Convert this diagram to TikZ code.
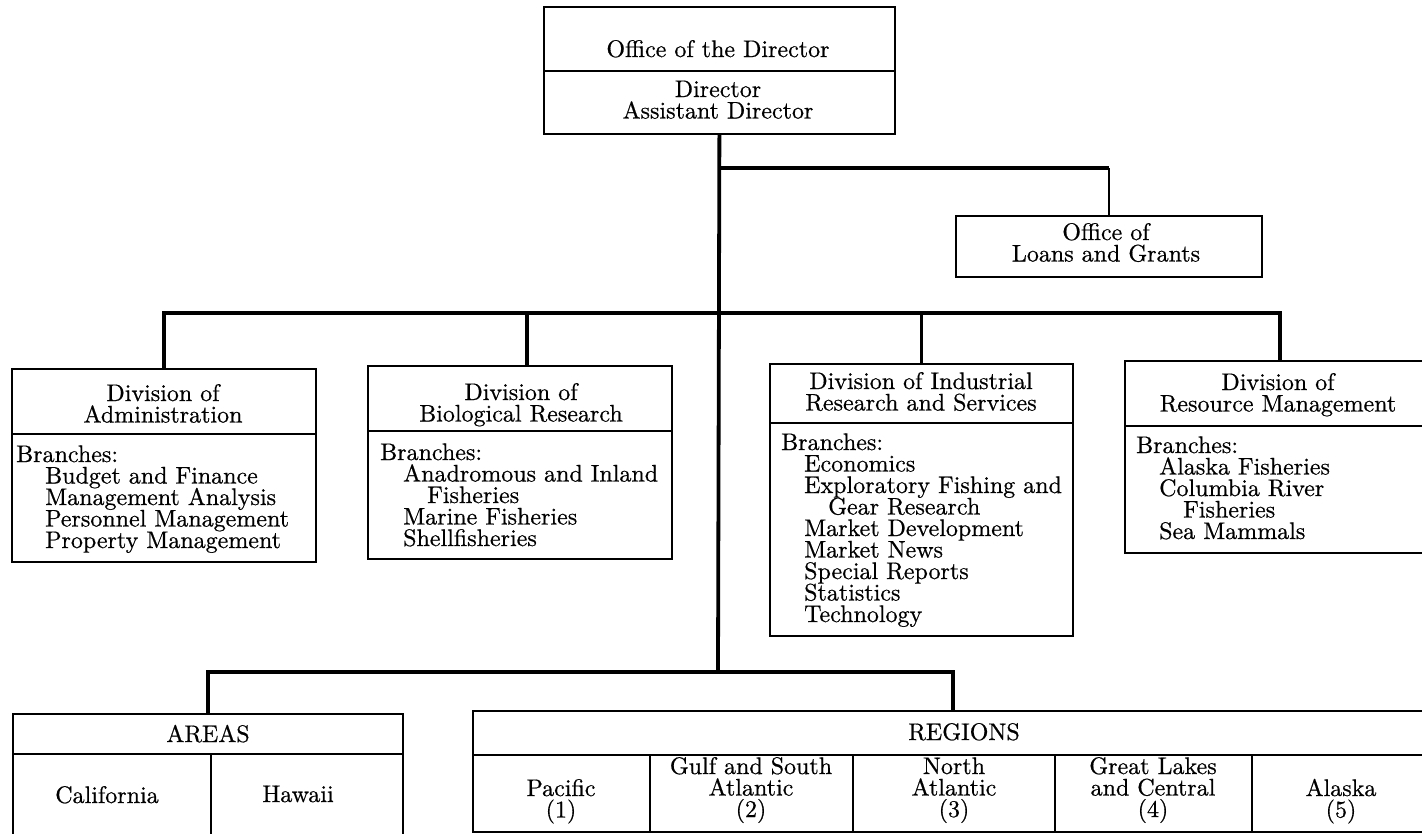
\documentclass[tikz,border=0pt]{standalone}
\usepackage{fontspec}
\setmainfont{lmroman10-regular.otf}[FakeBold=0.6]
\newcommand\LL[1]{\vtop{\baselineskip=21.5pt\lineskiplimit=-100pt\lineskip=0pt\halign{##\hfil\cr#1\crcr}}}
\newcommand\CC[1]{\vtop{\baselineskip=21.5pt\lineskiplimit=-100pt\lineskip=0pt\halign{\hfil##\hfil\cr#1\crcr}}}
\newcommand\ia{\hskip23pt}
\newcommand\ib{\hskip47pt}
\begin{document}
\begin{tikzpicture}[x=1pt,y=-1pt,
  box/.style={draw, line width=1.8pt, rectangle, inner sep=0pt, anchor=north west},
  div/.style={line width=1.7pt},
  trunk/.style={line width=3.8pt},
  thindrop/.style={line width=2pt},
  txt/.style={inner sep=0pt, font=\fontsize{24}{21.5}\selectfont}]
\useasboundingbox (0,0) rectangle (1422,833);
\clip (0,0) rectangle (1422,833);

% boxes
\node[box, minimum width=351pt, minimum height=127pt] (dir) at (543,6) {};
\node[box, minimum width=306pt, minimum height=61pt] (loans) at (955,215) {};
\node[box, minimum width=304pt, minimum height=193pt] (admin) at (11,368) {};
\node[box, minimum width=304pt, minimum height=193pt] (bio) at (367,365) {};
\node[box, minimum width=303pt, minimum height=272pt] (ind) at (769,363) {};
\node[box, minimum width=310pt, minimum height=192pt] (res) at (1124,360) {};
\node[box, minimum width=390pt, minimum height=150pt] (areas) at (12,713) {};
\node[box, minimum width=960pt, minimum height=121pt] (regions) at (472,710) {};

% dividers
\draw[div] ([yshift=-65pt]dir.north west) -- ([yshift=-65pt]dir.north east);
\draw[div] ([yshift=-66pt]admin.north west) -- ([yshift=-66pt]admin.north east);
\draw[div] ([yshift=-66pt]bio.north west) -- ([yshift=-66pt]bio.north east);
\draw[div] ([yshift=-60pt]ind.north west) -- ([yshift=-60pt]ind.north east);
\draw[div] ([yshift=-66pt]res.north west) -- ([yshift=-66pt]res.north east);
\draw[div] ([yshift=-41pt]areas.north west) -- ([yshift=-41pt]areas.north east);
\draw[div] ([xshift=199pt,yshift=-41pt]areas.north west) -- ([xshift=199pt]areas.south west);
\draw[div] ([yshift=-45pt]regions.north west) -- ([yshift=-45pt]regions.north east);
\foreach \dx in {178,381,583,780}
  \draw[div] ([xshift=\dx pt,yshift=-45pt]regions.north west) -- ([xshift=\dx pt]regions.south west);

% connectors
\coordinate (hubL) at (718,168);
\coordinate (hubD) at (718,313);
\coordinate (hubB) at (718,672);
\draw[trunk] (dir.south) -- (hubB);
\draw[trunk] (hubL) -- (hubL -| loans.north);
\draw[thindrop] (hubL -| loans.north) -- (loans.north);
\draw[trunk] (admin.north) -- (admin.north |- hubD) -- (res.north |- hubD) -- (res.north);
\draw[trunk] ([xshift=7pt]bio.north) -- ([xshift=7pt]bio.north |- hubD);
\draw[trunk] (ind.north) -- (ind.north |- hubD);
\draw[trunk] (areas.north) -- (areas.north |- hubB) -- (regions.north |- hubB) -- (regions.north);

% texts
\node[txt, anchor=base] (tdir1) at (718,57) {Office of the Director};
\node[txt, anchor=base] (tdir2) at (718,97) {\CC{Director\cr Assistant Director}};
\node[txt, anchor=base] (tloans) at (1106,240) {\CC{Office of\cr Loans and Grants}};

\node[txt, anchor=base] (tadm1) at (163,401) {\CC{Division of\cr Administration}};
\node[txt, anchor=base west] (tadm2) at (16,462) {\LL{Branches:\cr
  \hskip29pt Budget and Finance\cr
  \hskip29pt Management Analysis\cr
  \hskip29pt Personnel Management\cr
  \hskip29pt Property Management}};

\node[txt, anchor=base] (tbio1) at (521,400) {\CC{Division of\cr Biological Research}};
\node[txt, anchor=base west] (tbio2) at (380,460) {\LL{Branches:\cr
  \ia Anadromous and Inland\cr
  \ib Fisheries\cr
  \ia Marine Fisheries\cr
  \ia Shellfisheries}};

\node[txt, anchor=base] (tind1) at (921,389) {\CC{Division of Industrial\cr Research and Services}};
\node[txt, anchor=base west] (tind2) at (781,450) {\LL{Branches:\cr
  \ia Economics\cr
  \ia Exploratory Fishing and\cr
  \ib Gear Research\cr
  \ia Market Development\cr
  \ia Market News\cr
  \ia Special Reports\cr
  \ia Statistics\cr
  \ia Technology}};

\node[txt, anchor=base] (tres1) at (1278,390) {\CC{Division of\cr Resource Management}};
\node[txt, anchor=base west] (tres2) at (1136,453) {\LL{Branches:\cr
  \ia Alaska Fisheries\cr
  \ia Columbia River\cr
  \ib Fisheries\cr
  \ia Sea Mammals}};

\node[txt, anchor=base] (tareas) at (208,742) {AREAS};
\node[txt, anchor=base] (tcal) at (107,803) {California};
\node[txt, anchor=base] (thaw) at (298,802) {Hawaii};

\node[txt, anchor=base] (tregions) at (964,740) {REGIONS};
\node[txt, anchor=base] (tpac) at (561,796) {\CC{Pacific\cr (1)}};
\node[txt, anchor=base] (tgulf) at (751,774) {\CC{Gulf and South\cr Atlantic\cr (2)}};
\node[txt, anchor=base] (tnorth) at (954,774) {\CC{North\cr Atlantic\cr (3)}};
\node[txt, anchor=base] (tgreat) at (1153,774) {\CC{Great Lakes\cr and Central\cr (4)}};
\node[txt, anchor=base] (talaska) at (1341,796) {\CC{Alaska\cr (5)}};
\end{tikzpicture}
\end{document}
